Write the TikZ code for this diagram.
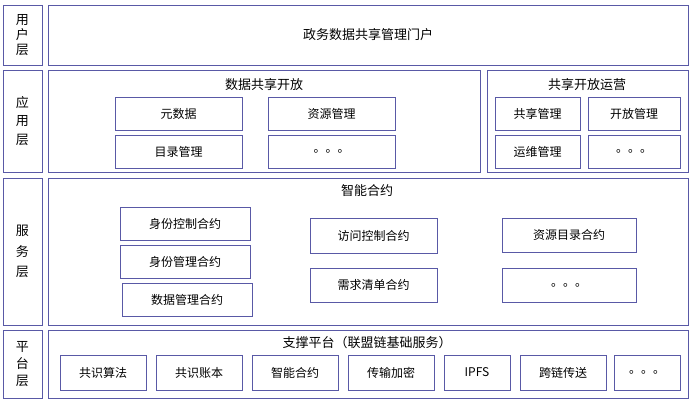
\documentclass[tikz,border=0pt]{standalone}
\usepackage{fontspec}
\newfontfamily\cjk{Noto Sans CJK SC}
\tikzset{
  frame/.style={draw=gray!70!blue, line width=0.6pt, fill=white},
  cell/.style={frame, inner sep=0pt, font=\cjk\fontsize{12}{12}\selectfont},
  title/.style={font=\cjk\fontsize{13}{13}\selectfont}
}
\newcommand\cellbox[6]{\draw[cell] (#2,#3) rectangle (#4,#5) node[midway] (#1) {#6};}
\begin{document}
\begin{tikzpicture}[x=1pt,y=-1pt]
        \useasboundingbox[fill=white] (0,0) rectangle (692,405);

        % layer labels
        \cellbox{lu}{3}{5}{42}{65}{\fontsize{13}{18}\selectfont\shortstack{用\\户\\层}}
        \cellbox{la}{3}{70}{42}{172}{\fontsize{13}{20}\selectfont\shortstack{应\\[4pt]用\\[4pt]层}}
        \cellbox{ls}{3}{178}{42}{325}{\fontsize{13}{20}\selectfont\shortstack{服\\[6pt]务\\[6pt]层}}
        \cellbox{lp}{3}{330}{42}{398}{\fontsize{13}{18}\selectfont\shortstack{平\\[2pt]台\\[2pt]层}}

        % user layer
        \cellbox{portal}{48}{5}{688}{65}{\fontsize{13}{13}\selectfont 政务数据共享管理门户}

        % application layer
        \draw[frame] (48,70) rectangle (480,172);
        \node[title] (open) at (264,85) {数据共享开放};
        \cellbox{meta}{115}{97}{242}{130}{元数据}
        \cellbox{res}{268}{97}{395}{130}{资源管理}
        \cellbox{cat}{115}{135}{242}{168}{目录管理}
        \cellbox{more1}{268}{135}{395}{168}{。。。}
        \draw[frame] (487,70) rectangle (688,172);
        \node[title] (oper) at (587,85) {共享开放运营};
        \cellbox{share}{495}{97}{580}{130}{共享管理}
        \cellbox{pub}{588}{97}{680}{130}{开放管理}
        \cellbox{ops}{495}{135}{580}{168}{运维管理}
        \cellbox{more2}{588}{135}{680}{168}{。。。}

        % service layer
        \draw[frame] (48,178) rectangle (688,325);
        \node[title] (smart) at (367,191) {智能合约};
        \cellbox{idc}{120}{207}{250}{240}{身份控制合约}
        \cellbox{idm}{120}{245}{250}{278}{身份管理合约}
        \cellbox{dm}{122}{283}{252}{316}{数据管理合约}
        \cellbox{acc}{310}{218}{437}{253}{访问控制合约}
        \cellbox{req}{310}{268}{437}{302}{需求清单合约}
        \cellbox{rc}{502}{218}{636}{252}{资源目录合约}
        \cellbox{more3}{502}{268}{636}{302}{。。。}

        % platform layer
        \draw[frame] (48,330) rectangle (688,398);
        \node[title] (base) at (367,343) {支撑平台（联盟链基础服务）};
        \cellbox{cons}{60}{355}{146}{390}{共识算法}
        \cellbox{ledg}{156}{355}{242}{390}{共识账本}
        \cellbox{sc}{252}{355}{338}{390}{智能合约}
        \cellbox{enc}{348}{355}{434}{390}{传输加密}
        \cellbox{ipfs}{444}{355}{510}{390}{IPFS}
        \cellbox{cross}{520}{355}{606}{390}{跨链传送}
        \cellbox{more4}{614}{355}{680}{390}{。。。}
\end{tikzpicture}
\end{document}
